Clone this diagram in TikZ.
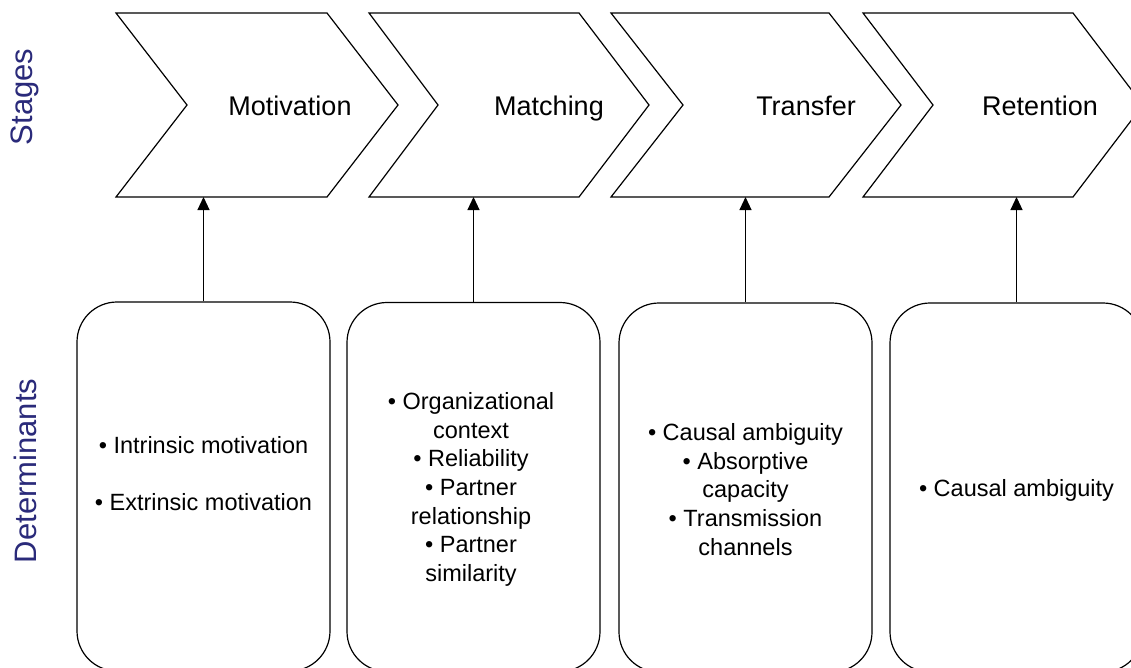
\documentclass[tikz,border=0pt]{standalone}
\usepackage{fontspec}
\setmainfont{Liberation Sans}
\usetikzlibrary{arrows.meta}
\definecolor{navy}{RGB}{42,42,122}
\begin{document}
\begin{tikzpicture}[x=1pt,y=-1pt,
  chev/.style={draw=black,line width=1.2pt,line join=miter,fill=white},
  stagelbl/.style={font=\fontsize{27}{32}\selectfont,inner sep=0pt,anchor=base},
  detbox/.style={draw=black,line width=1.2pt,rounded corners=40pt,minimum width=253pt,minimum height=369pt,inner sep=0pt},
  dettext/.style={align=center,font=\fontsize{23.5}{28.6}\selectfont,inner sep=0pt},
  sidelbl/.style={rotate=90,text=navy,font=\fontsize{31}{36}\selectfont,inner sep=0pt},
  arr/.style={-{Triangle[length=13pt,width=12pt]},line width=1.1pt}]
\useasboundingbox (0,0) rectangle (1131,667);
\fill[white] (0,0) rectangle (1131,667);
% side labels
\node[sidelbl] (lstages) at (25,97) {Stages};
\node[sidelbl] (ldet) at (25,471) {Determinants};
% chevrons
\draw[chev] (116,13) -- (327,13) -- (398,105) -- (327,197) -- (116,197) -- (187,105) -- cycle;
\draw[chev] (369,13) -- (579,13) -- (649,105) -- (579,197) -- (369,197) -- (438,105) -- cycle;
\draw[chev] (611,13) -- (829,13) -- (901,105) -- (829,197) -- (611,197) -- (683,105) -- cycle;
\draw[chev] (863,13) -- (1073,13) -- (1143,105) -- (1073,197) -- (863,197) -- (933,105) -- cycle;
\node[stagelbl] (t1) at (290,115) {Motivation};
\node[stagelbl] (t2) at (549,115) {Matching};
\node[stagelbl] (t3) at (806,115) {Transfer};
\node[stagelbl] (t4) at (1040,115) {Retention};
\coordinate (s1) at (203.5,197);
\coordinate (s2) at (473.5,197);
\coordinate (s3) at (745.5,197);
\coordinate (s4) at (1016.5,197);
% boxes
\node[detbox] (b1) at (203.5,486.5) {};
\node[detbox] (b2) at (473.5,487) {};
\node[detbox] (b3) at (745.5,487.5) {};
\node[detbox] (b4) at (1016.5,487.5) {};
\node[dettext] (d1) at (203.5,473.5) {• Intrinsic motivation\\[28.6pt]• Extrinsic motivation};
\node[dettext] (d2) at (471,489.5) {• Organizational\\context\\• Reliability\\• Partner\\relationship\\• Partner\\similarity};
\node[dettext] (d3) at (745.5,489.5) {• Causal ambiguity\\• Absorptive\\capacity\\• Transmission\\channels};
\node[dettext] (d4) at (1016.5,490) {• Causal ambiguity};
% arrows
\draw[arr] (b1.north) -- (s1);
\draw[arr] (b2.north) -- (s2);
\draw[arr] (b3.north) -- (s3);
\draw[arr] (b4.north) -- (s4);
\end{tikzpicture}
\end{document}
